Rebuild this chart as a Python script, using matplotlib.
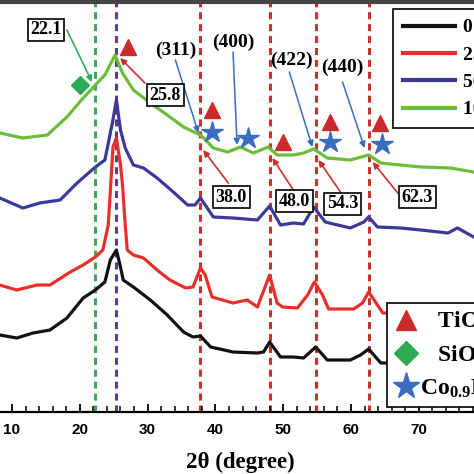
import matplotlib
matplotlib.use('Agg')
import matplotlib.pyplot as plt
from matplotlib.lines import Line2D
from matplotlib.ticker import MultipleLocator

plt.rcParams['mathtext.fontset'] = 'custom'
plt.rcParams['mathtext.rm'] = 'Liberation Serif:bold'
plt.rcParams['mathtext.it'] = 'Liberation Serif:bold'
plt.rcParams['mathtext.bf'] = 'Liberation Serif:bold'

# ---------------- data ----------------
series_labels = ['0 wt%', '25 wt%', '50 wt%', '100 wt%']
series_colors = ['#111111', '#e8302a', '#3b3a98', '#6cbd3a']

tt_black = [5, 8.2, 10.7, 13.1, 15.6, 18.1, 20.5, 22.3, 23.7, 24.5, 25.4, 26.0, 26.4, 27.9, 30.4,
            32.9, 35.3, 36.7, 37.8, 39.3, 42.6, 46.2, 47.1, 48.0, 49.6, 51.5, 53.0, 54.8, 56.5,
            59.9, 61.4, 62.6, 64.4, 66, 70, 75, 80]
int_black = [78, 77, 74, 79, 82, 94, 114, 122, 130, 152, 162, 145, 132, 125, 112,
             97, 80, 75, 76, 65, 60, 59, 60, 70, 55, 55, 54, 65, 52,
             52, 57, 63, 49, 49, 48, 47, 47]

tt_red = [5, 8.2, 10.7, 13.7, 15.6, 18.6, 20.5, 22.3, 23.4, 24.2, 24.9, 25.4, 26.0, 26.3, 26.7,
          27.0, 27.9, 29.4, 31.4, 33.3, 35.6, 36.7, 37.8, 38.5, 39.5, 42.6, 44.7, 46.2, 48.0,
          49.1, 49.9, 52.1, 53.6, 54.6, 55.8, 56.7, 60.4, 61.7, 62.6, 63.6, 64.7, 66, 70, 75, 80]
int_red = [128, 127, 122, 127, 127, 140, 147, 155, 162, 187, 265, 274, 247, 227, 187,
           162, 157, 154, 142, 132, 124, 125, 144, 137, 115, 109, 112, 105, 137,
           109, 105, 104, 117, 130, 117, 103, 103, 109, 120, 110, 99, 99, 98, 97, 96]

tt_blue = [5, 8.2, 11.6, 14.1, 17.1, 19.6, 22.3, 23.7, 24.8, 25.4, 26.0, 26.7, 27.9, 29.4, 31.4,
           33.8, 35.9, 37.0, 37.8, 38.5, 39.7, 42.6, 46.2, 48.0, 49.6, 51.5, 53.0, 54.5, 56.2,
           59.9, 61.9, 62.6, 63.9, 67.3, 70.3, 74.3, 75.7, 78.1, 80]
int_blue = [216, 214, 204, 209, 212, 229, 245, 252, 289, 312, 282, 264, 247, 244, 234,
            220, 207, 207, 214, 207, 195, 194, 192, 206, 187, 189, 188, 205, 190,
            184, 190, 195, 185, 184, 182, 179, 184, 175, 172]

tt_green = [5, 8.2, 11.6, 15.2, 18.1, 20.5, 22.3, 23.7, 25.2, 26.3, 27.9, 30.4, 32.9, 35.3,
            37.8, 39.7, 41.8, 43.7, 45.6, 47.8, 49.1, 51.5, 53.0, 54.5, 56.5, 59.9, 62.6,
            64.4, 67.3, 70.3, 74.7, 78.1, 80]
int_green = [281, 279, 274, 277, 295, 314, 327, 337, 357, 339, 322, 309, 297, 285,
             277, 264, 260, 265, 259, 265, 257, 257, 259, 263, 254, 252, 257,
             249, 247, 245, 244, 240, 238]

ref_lines = [22.3, 25.3, 37.8, 48.1, 54.8, 62.7]
ref_colors = ['#3aaa5a', '#5b3d91', '#c8322e', '#c8322e', '#c8322e', '#c8322e']

peak_labels = ['22.1', '25.8', '38.0', '48.0', '54.3', '62.3']
peak_label_xy = [(15.0, 382), (32.6, 317), (42.35, 215), (51.65, 211), (58.75, 208), (69.8, 215)]
peak_arrow_from = [(18.1, 382), (29.6, 329), (41.9, 229), (51.5, 222), (58.45, 220), (66.9, 219)]
peak_arrow_to = [(21.8, 330), (25.95, 354), (38.2, 262), (48.4, 254), (55.2, 252), (63.2, 250)]
peak_arrow_colors = ['#3aaa5a', '#c8322e', '#c8322e', '#c8322e', '#c8322e', '#c8322e']

hkl_labels = ['(311)', '(400)', '(422)', '(440)']
hkl_xy = [(34.1, 362), (42.6, 370), (51.2, 352), (58.75, 345)]
hkl_arrow_from = [(34.1, 352), (42.6, 360), (50.9, 340), (58.75, 330)]
hkl_arrow_to = [(37.5, 279), (43.2, 267), (54.3, 265), (62.0, 264)]

tio2_x = [27.1, 39.55, 49.9, 56.95, 64.35]
tio2_y = [365, 302, 270, 290, 289]
sio2_x = [20.0]
sio2_y = [327]
cnf_x = [39.55, 44.85, 56.95, 64.5]
cnf_y = [280, 274, 270, 268]

tri_color = '#cc2a2a'
dia_color = '#2eaa55'
star_color = '#3a6cc0'

# ---------------- figure ----------------
W = 474.0
fig = plt.figure(figsize=(4.74, 4.74), dpi=100)
xmin, xmax = 5, 80
px_per_deg = 6.78
left_px = 12 - (10 - xmin) * px_per_deg
width_px = (xmax - xmin) * px_per_deg
ax = fig.add_axes([left_px / W, 62 / W, width_px / W, 410 / W])
ax.set_xlim(xmin, xmax)
ax.set_ylim(0, 410)

for xv, c in zip(ref_lines, ref_colors):
    ax.axvline(xv, color=c, lw=2.2, ls=(0, (2.3, 1.6)), zorder=1)

xs = [tt_black, tt_red, tt_blue, tt_green]
ys = [int_black, int_red, int_blue, int_green]
for x, y, c, lab in zip(xs, ys, series_colors, series_labels):
    ax.plot(x, y, color=c, lw=2.3, label=lab, zorder=3)

ax.plot(tio2_x, tio2_y, ls='none', marker='^', ms=12, color=tri_color, zorder=4)
ax.plot(sio2_x, sio2_y, ls='none', marker='D', ms=9.5, color=dia_color, zorder=4)
ax.plot(cnf_x, cnf_y, ls='none', marker='*', ms=16, color=star_color, zorder=4)

box = dict(boxstyle='square,pad=0.15', fc='white', ec='black', lw=1.2)
for lab, (tx, ty), (sx, sy), (ex, ey), c in zip(peak_labels, peak_label_xy, peak_arrow_from,
                                                 peak_arrow_to, peak_arrow_colors):
    ax.annotate('', xy=(ex, ey), xytext=(sx, sy),
                arrowprops=dict(arrowstyle='-|>', color=c, lw=1.2, mutation_scale=9,
                                shrinkA=0, shrinkB=0), zorder=5)
    ax.text(tx, ty, lab, ha='center', va='center', fontsize=13, fontweight='bold',
            family='Liberation Serif', bbox=box, zorder=6)

for lab, (tx, ty), (sx, sy), (ex, ey) in zip(hkl_labels, hkl_xy, hkl_arrow_from, hkl_arrow_to):
    ax.annotate('', xy=(ex, ey), xytext=(sx, sy),
                arrowprops=dict(arrowstyle='-|>', color=star_color, lw=1.1, mutation_scale=9,
                                shrinkA=0, shrinkB=0), zorder=5)
    ax.text(tx, ty, lab, ha='center', va='center', fontsize=14, fontweight='bold',
            family='Liberation Serif', zorder=6)

# axes styling
ax.spines['top'].set_linewidth(3)
ax.spines['top'].set_color('#444444')
ax.spines['bottom'].set_linewidth(1.6)
ax.spines['left'].set_linewidth(1.6)
ax.spines['right'].set_linewidth(1.6)
ax.xaxis.set_major_locator(MultipleLocator(10))
ax.xaxis.set_minor_locator(MultipleLocator(2))
ax.tick_params(axis='x', which='major', direction='in', length=6, width=1.3, pad=8)
ax.tick_params(axis='x', which='minor', direction='in', length=4, width=1.1)
ax.set_yticks([])
for t in ax.get_xticklabels():
    t.set_fontfamily('Liberation Sans')
    t.set_fontweight('bold')
    t.set_fontsize(11)
ax.set_xlabel('2θ (degree)', fontsize=16.5, fontweight='bold', family='Liberation Serif')
ax.xaxis.set_label_coords((240 - left_px) / width_px, -50 / 410)
ax.xaxis.label.set_va('center')

# legends
leg1 = ax.legend(loc='upper left', bbox_to_anchor=(393 / W, 1 - 9 / W),
                 bbox_transform=fig.transFigure, borderaxespad=0, fancybox=False,
                 edgecolor='black', framealpha=1, prop={'family': 'Liberation Serif',
                                                        'weight': 'bold', 'size': 14},
                 handlelength=2.7, labelspacing=0.5, borderpad=0.5, handletextpad=0.4)
leg1.get_frame().set_linewidth(1.2)
for h in leg1.get_lines():
    h.set_linewidth(3)
ax.add_artist(leg1)

mk_handles = [Line2D([], [], ls='none', marker='^', ms=15, color=tri_color),
              Line2D([], [], ls='none', marker='D', ms=12, color=dia_color),
              Line2D([], [], ls='none', marker='*', ms=20, color=star_color)]
mk_labels = ['   TiO$_2$', '   SiO$_2$', r'Co$_{0.9}$Ni$_{0.1}$Fe$_2$O$_4$']
leg2 = ax.legend(mk_handles, mk_labels, loc='lower left', bbox_to_anchor=(387 / W, 67 / W),
                 bbox_transform=fig.transFigure, borderaxespad=0, fancybox=False,
                 edgecolor='black', framealpha=1,
                 prop={'family': 'Liberation Serif', 'weight': 'bold', 'size': 17},
                 handlelength=1.0, labelspacing=0.42, borderpad=0.3, handletextpad=0.1)
leg2.get_frame().set_linewidth(1.2)
leg2.set_zorder(10)

fig.savefig('out.png', dpi=100)
